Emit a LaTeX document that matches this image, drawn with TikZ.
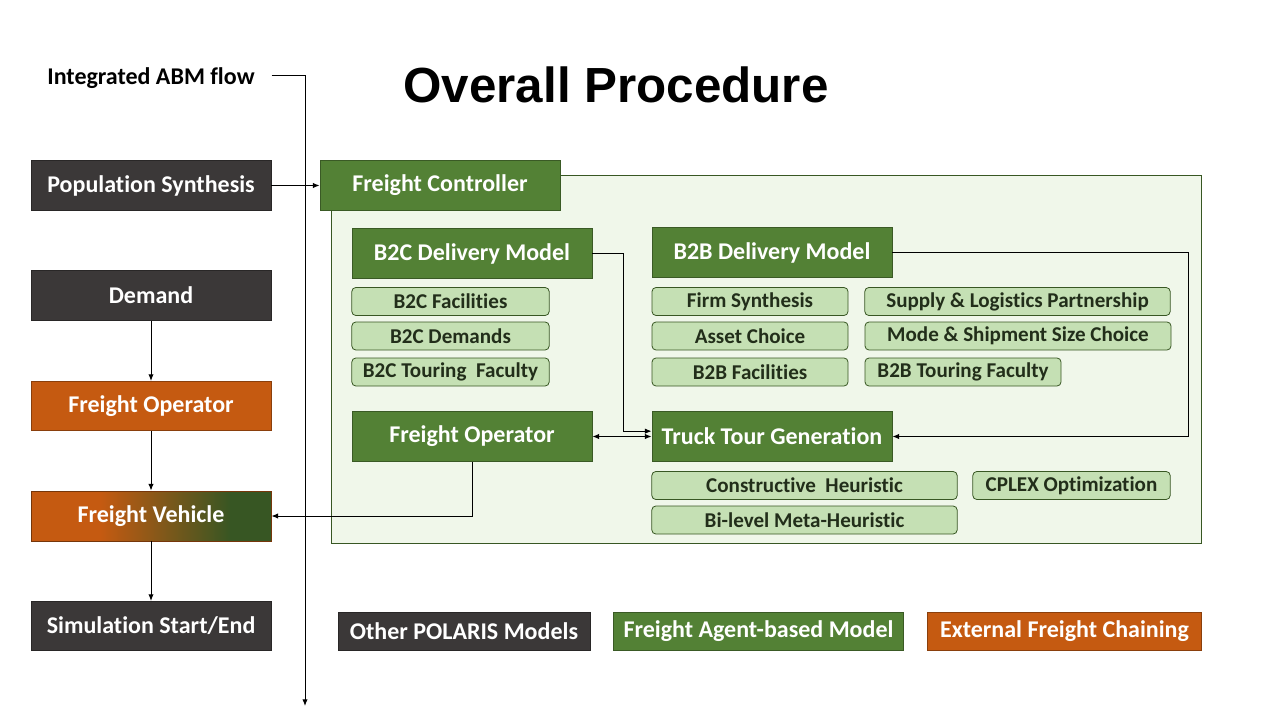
\documentclass[tikz,border=0pt]{standalone}
\usepackage{fontspec}
\setmainfont{Carlito}[Ligatures=NoCommon]
\newfontfamily\titlefont{Liberation Sans}
\usetikzlibrary{arrows.meta}
\definecolor{dgray}{RGB}{59,56,56}
\definecolor{fgreen}{RGB}{83,129,53}
\definecolor{forange}{RGB}{197,90,17}
\definecolor{lgreen}{RGB}{197,224,180}
\definecolor{panelfill}{RGB}{240,247,234}
\definecolor{dkgreen}{RGB}{56,87,35}
\definecolor{vgreen}{RGB}{55,86,35}
\definecolor{smalltext}{RGB}{34,46,26}
\tikzset{
  bigbox/.style={draw=#1!70!black, line width=0.6pt, fill=#1, text=white, font=\bfseries\fontsize{18}{21}\selectfont, minimum width=180pt, minimum height=37pt, inner sep=0pt},
  smallbox/.style={draw=dkgreen, line width=0.6pt, fill=lgreen, rounded corners=3pt, text=smalltext, font=\bfseries\fontsize{15.8}{18}\selectfont, minimum height=21pt, minimum width=#1, inner sep=0pt},
  legbox/.style={draw=#1!70!black, line width=0.6pt, fill=#1, text=white, font=\bfseries\fontsize{18}{21}\selectfont, minimum height=29pt, inner sep=0pt},
  arr/.style={line width=0.75pt, -{Latex[length=5pt,width=4pt]}},
  arrtwo/.style={line width=0.75pt, {Latex[length=5pt,width=4pt]}-{Latex[length=5pt,width=4pt]}},
}
\begin{document}
\begin{tikzpicture}[x=0.75pt,y=-0.75pt]
\useasboundingbox (0,0) rectangle (1280,720);
% title
\node[font=\titlefont\bfseries\fontsize{37}{40}\selectfont, anchor=center] (title) at (616,85) {Overall Procedure};
\node[font=\bfseries\fontsize{18}{21}\selectfont, anchor=center, inner sep=0pt] (abm) at (151,78) {Integrated ABM flow};
\coordinate (vtop) at (305,76);
\coordinate (vbot) at (305,706);
\draw[arr] ([xshift=12.5pt,yshift=1.5pt]abm.east) -- (vtop) -- (vbot);

% panel
\node[draw=dkgreen, line width=0.6pt, fill=panelfill, minimum width=652.5pt, minimum height=276pt, inner sep=0pt] (panel) at (766,359) {};

% left column
\node[bigbox=dgray] (pop) at (151,185.5) {Population Synthesis};
\node[bigbox=dgray] (dem) at (151,295.5) {Demand};
\node[bigbox=forange] (fop) at (151,406) {Freight Operator};
\fill[forange] (31,491) rectangle (101,541);
\shade[left color=forange, right color=vgreen] (100,491) rectangle (231,541);
\fill[vgreen] (230,491) rectangle (271,541);
\node[draw=forange!60!black, line width=0.6pt, text=white, font=\bfseries\fontsize{18}{21}\selectfont, minimum width=180pt, minimum height=37.5pt, inner sep=0pt] (fv) at (151,516) {Freight Vehicle};
\node[bigbox=dgray] (sim) at (151,626) {Simulation Start/End};

% freight panel boxes
\node[bigbox=fgreen] (fc) at (440,185.5) {Freight Controller};
\node[bigbox=fgreen] (b2c) at (472,253.5) {B2C Delivery Model};
\node[bigbox=fgreen] (b2b) at (772,252.5) {B2B Delivery Model};
\node[bigbox=fgreen] (fo) at (472,436.5) {Freight Operator};
\node[bigbox=fgreen] (tt) at (772,436.5) {Truck Tour Generation};

\node[smallbox=148pt] (b2cfac) at (450.5,301.5) {B2C Facilities};
\node[smallbox=148pt] (b2cdem) at (450.5,336) {B2C Demands};
\node[smallbox=148pt] (b2ctf) at (450.5,372) {B2C Touring\ \ Faculty};

\node[smallbox=147pt] (firm) at (750,301.5) {Firm Synthesis};
\node[smallbox=147pt] (asset) at (750,336) {Asset Choice};
\node[smallbox=147pt] (b2bfac) at (750,372) {B2B Facilities};
\node[smallbox=229pt] (supply) at (1017.5,301.5) {Supply \& Logistics Partnership};
\node[smallbox=229.5pt] (mode) at (1018,336) {Mode \& Shipment Size Choice};
\node[smallbox=147pt] (b2btf) at (963,372) {B2B Touring Faculty};

\node[smallbox=229pt] (constr) at (804.5,485.5) {Constructive\ \ Heuristic};
\node[smallbox=148pt] (cplex) at (1071.5,485.5) {CPLEX Optimization};
\node[smallbox=229pt] (bilevel) at (804.5,520) {Bi-level Meta-Heuristic};

% legend
\node[legbox=dgray, minimum width=189pt] (leg1) at (464,631.5) {Other POLARIS Models};
\node[legbox=fgreen, minimum width=218pt] (leg2) at (758.5,631.5) {Freight Agent-based Model};
\node[legbox=forange, minimum width=205pt] (leg3) at (1064.5,631.5) {External Freight Chaining};

% connectors
\draw[arr] (pop.east) -- (fc.west);
\draw[arr] (dem.south) -- (fop.north);
\draw[arr] (fop.south) -- (fv.north);
\draw[arr] (fv.south) -- (sim.north);
\draw[arr] (b2c.east) -- ++(31,0) |- ([yshift=4pt]tt.west);
\draw[arr] (b2b.east) -- ++(296,0) |- (tt.east);
\draw[arrtwo] (fo.east) -- (tt.west);
\draw[arr] (fo.south) |- (fv.east);
\end{tikzpicture}
\end{document}
